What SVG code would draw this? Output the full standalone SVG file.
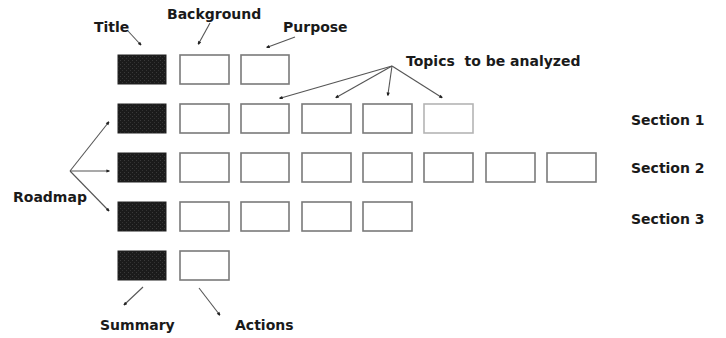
<svg xmlns="http://www.w3.org/2000/svg" width="726" height="338" viewBox="0 0 726 338">
<style>
.lbl{font-family:"DejaVu Sans",Verdana,sans-serif;font-weight:bold;font-size:14px;fill:#1a1a1a;white-space:pre}
.dark{fill:url(#tex);stroke:#222;stroke-width:1}
.box{fill:#fff;stroke:#7a7a7a;stroke-width:1.6}
.lite{fill:#fff;stroke:#b4b4b4;stroke-width:1.6}
.con{fill:none;stroke:#555;stroke-width:1.1;marker-end:url(#dot)}
</style>
<defs>
<pattern id="tex" width="4" height="4" patternUnits="userSpaceOnUse">
<rect width="4" height="4" fill="#1b1b1b"/>
<rect x="0" y="0" width="1" height="1" fill="#3a3a3a"/>
<rect x="2" y="2" width="1" height="1" fill="#333"/>
</pattern>
<marker id="dot" viewBox="0 0 10 10" refX="5" refY="5" markerWidth="4" markerHeight="4" orient="auto" markerUnits="userSpaceOnUse">
<path d="M1,1 L9,3.5 L9,6.5 L1,9 z" fill="#222"/>
</marker>
</defs>
<rect width="726" height="338" fill="#fff"/>

<g id="row1">
<rect class="dark" x="118" y="55" width="48" height="29"/>
<rect class="box" x="180" y="55" width="49" height="29"/>
<rect class="box" x="241" y="55" width="48" height="29"/>
</g>
<g id="row2">
<rect class="dark" x="118" y="104" width="48" height="29"/>
<rect class="box" x="180" y="104" width="49" height="29"/>
<rect class="box" x="241" y="104" width="48" height="29"/>
<rect class="box" x="302" y="104" width="49" height="29"/>
<rect class="box" x="363" y="104" width="49" height="29"/>
<rect class="lite" x="424" y="104" width="49" height="29"/>
</g>
<g id="row3">
<rect class="dark" x="118" y="153" width="48" height="29"/>
<rect class="box" x="180" y="153" width="49" height="29"/>
<rect class="box" x="241" y="153" width="48" height="29"/>
<rect class="box" x="302" y="153" width="49" height="29"/>
<rect class="box" x="363" y="153" width="49" height="29"/>
<rect class="box" x="424" y="153" width="49" height="29"/>
<rect class="box" x="486" y="153" width="49" height="29"/>
<rect class="box" x="547" y="153" width="49" height="29"/>
</g>
<g id="row4">
<rect class="dark" x="118" y="202" width="48" height="29"/>
<rect class="box" x="180" y="202" width="49" height="29"/>
<rect class="box" x="241" y="202" width="48" height="29"/>
<rect class="box" x="302" y="202" width="49" height="29"/>
<rect class="box" x="363" y="202" width="49" height="29"/>
</g>
<g id="row5">
<rect class="dark" x="118" y="251" width="48" height="29"/>
<rect class="box" x="180" y="251" width="49" height="29"/>
</g>

<g id="labels">
<text class="lbl" x="94" y="32">Title</text>
<text class="lbl" x="167" y="19">Background</text>
<text class="lbl" x="283" y="32">Purpose</text>
<text class="lbl" x="406" y="66">Topics  to be analyzed</text>
<text class="lbl" x="631" y="125">Section 1</text>
<text class="lbl" x="631" y="173">Section 2</text>
<text class="lbl" x="631" y="224">Section 3</text>
<text class="lbl" x="13" y="202">Roadmap</text>
<text class="lbl" x="100" y="330">Summary</text>
<text class="lbl" x="235" y="330">Actions</text>
</g>

<g id="connectors">
<line class="con" x1="128" y1="31" x2="140" y2="44"/>
<line class="con" x1="210" y1="23" x2="199" y2="43"/>
<line class="con" x1="295" y1="37" x2="268" y2="47"/>
<line class="con" x1="392" y1="66" x2="281" y2="98"/>
<line class="con" x1="392" y1="66" x2="337" y2="97"/>
<line class="con" x1="392" y1="66" x2="388" y2="94"/>
<line class="con" x1="392" y1="66" x2="441" y2="97"/>
<line class="con" x1="70" y1="171" x2="108" y2="123"/>
<line class="con" x1="70" y1="171" x2="108" y2="171"/>
<line class="con" x1="70" y1="171" x2="108" y2="210"/>
<line class="con" x1="143" y1="287" x2="125" y2="304"/>
<line class="con" x1="199" y1="288" x2="219" y2="314"/>
</g>
</svg>
